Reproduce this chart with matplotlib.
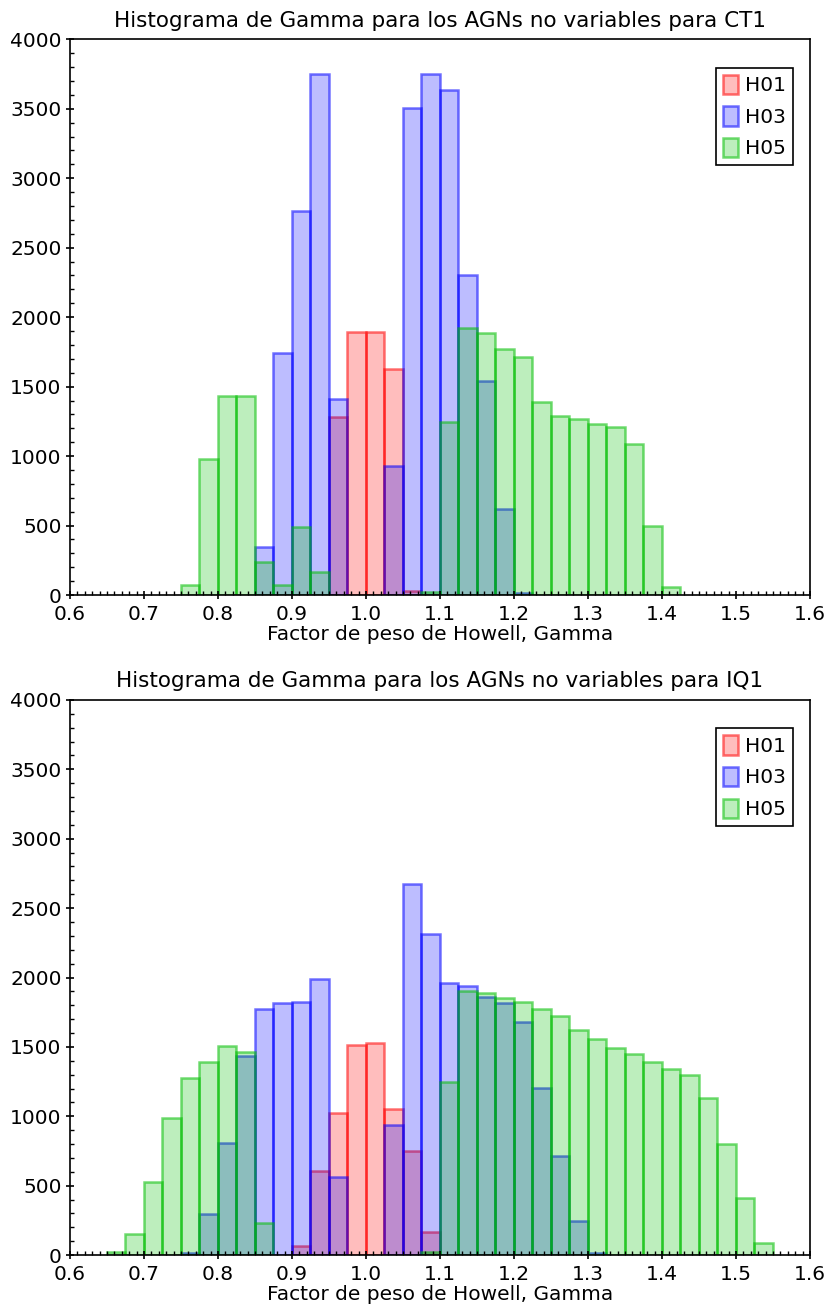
import numpy as np
import matplotlib
matplotlib.use("Agg")
import matplotlib.pyplot as plt
from matplotlib.ticker import MultipleLocator, FormatStrFormatter

# bins de 0.025 desde 0.65 hasta 1.55
bin_start = 0.65
bin_width = 0.025

# conteos por bin (indice 0 -> 0.65)
ct1_h01 = {12: 1280, 13: 1890, 14: 1890, 15: 1625, 16: 30}
ct1_h03 = {8: 346, 9: 1741, 10: 2765, 11: 3750, 12: 1410, 15: 928, 16: 3503,
           17: 3750, 18: 3632, 19: 2300, 20: 1541, 21: 617, 22: 15}
ct1_h05 = {4: 72, 5: 982, 6: 1434, 7: 1434, 8: 240, 9: 72, 10: 487, 11: 168,
           17: 25, 18: 1245, 19: 1921, 20: 1885, 21: 1768, 22: 1710, 23: 1390,
           24: 1288, 25: 1264, 26: 1228, 27: 1206, 28: 1087, 29: 494, 30: 58}

iq1_h01 = {10: 65, 11: 607, 12: 1024, 13: 1515, 14: 1525, 15: 1055, 16: 753, 17: 163}
iq1_h03 = {4: 15, 5: 295, 6: 808, 7: 1435, 8: 1770, 9: 1815, 10: 1825, 11: 1992,
           12: 560, 15: 940, 16: 2674, 17: 2314, 18: 1959, 19: 1942, 20: 1863,
           21: 1815, 22: 1680, 23: 1205, 24: 717, 25: 245, 26: 15}
iq1_h05 = {0: 20, 1: 149, 2: 528, 3: 990, 4: 1273, 5: 1391, 6: 1507, 7: 1464,
           8: 233, 17: 19, 18: 1247, 19: 1906, 20: 1890, 21: 1851, 22: 1827,
           23: 1775, 24: 1722, 25: 1623, 26: 1554, 27: 1494, 28: 1451, 29: 1391,
           30: 1343, 31: 1295, 32: 1132, 33: 799, 34: 408, 35: 89}

labels = ["H01", "H03", "H05"]
colors = [(1.0, 0.0, 0.0), (0.0, 0.0, 1.0), (0.0, 0.75, 0.0)]
titles = ["Histograma de Gamma para los AGNs no variables para CT1",
          "Histograma de Gamma para los AGNs no variables para IQ1"]
xlabel = "Factor de peso de Howell, Gamma"

plt.rcParams['font.family'] = ['DejaVu Sans']
FS = 14.5

fig = plt.figure(figsize=(8.27, 13.15), dpi=100)
ax1 = fig.add_axes([0.0846, 0.5475, 0.8948, 0.4226])
ax2 = fig.add_axes([0.0846, 0.0456, 0.8948, 0.4221])


def dibujar(ax, series, titulo):
    for datos, lab, c in zip(series, labels, colors):
        idx = np.array(sorted(datos.keys()))
        alturas = np.array([datos[i] for i in idx])
        izq = bin_start + idx * bin_width
        ax.bar(izq, alturas, width=bin_width, align='edge',
               facecolor=c + (0.26,), edgecolor=c + (0.55,),
               linewidth=1.8, label=lab)
    ax.set_xlim(0.6, 1.6)
    ax.set_ylim(0, 4000)
    ax.xaxis.set_major_locator(MultipleLocator(0.1))
    ax.xaxis.set_minor_locator(MultipleLocator(0.01))
    ax.yaxis.set_major_locator(MultipleLocator(500))
    ax.yaxis.set_minor_locator(MultipleLocator(100))
    ax.xaxis.set_major_formatter(FormatStrFormatter('%.1f'))
    ax.tick_params(which='major', direction='inout', length=6, width=1.2,
                   labelsize=FS)
    ax.tick_params(axis='x', which='major', pad=4)
    ax.tick_params(axis='y', which='major', pad=3)
    ax.tick_params(which='minor', direction='in', length=3, width=1.0)
    for s in ax.spines.values():
        s.set_linewidth(1.2)
    ax.set_title(titulo, fontsize=15.5, pad=9)
    ax.set_xlabel(xlabel, fontsize=FS, labelpad=1)
    leg = ax.legend(loc='upper right', bbox_to_anchor=(0.977, 0.949),
                    borderaxespad=0, fancybox=False, framealpha=1,
                    edgecolor='black', fontsize=FS, handlelength=0.75,
                    handleheight=1.1, handletextpad=0.35, borderpad=0.35,
                    labelspacing=0.55)
    leg.get_frame().set_linewidth(1.2)


dibujar(ax1, [ct1_h01, ct1_h03, ct1_h05], titles[0])
dibujar(ax2, [iq1_h01, iq1_h03, iq1_h05], titles[1])

fig.savefig("out.png", dpi=100)
